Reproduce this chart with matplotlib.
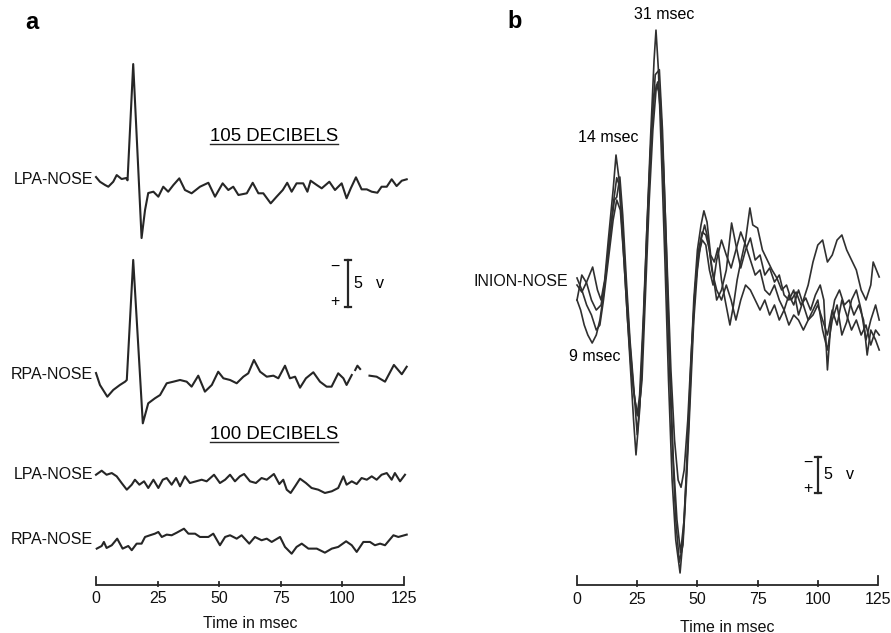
import numpy as np
import matplotlib.pyplot as plt

plt.rcParams['font.family'] = ['Liberation Sans', 'DejaVu Sans']

nan = np.nan

# ---- panel a: mastoid (PA) to nose derivations, 105 dB and 100 dB clicks ----
# time in msec, deflection in microvolts (upward = surface negative)
lpa105_t = [0, 1.6, 3.7, 5, 7, 8.4, 10.4, 12.2, 12.8, 15.1, 18.5, 19.9, 21.2, 23.3, 25.3,
            27.3, 29.3, 31.4, 33.8, 36.1, 38.8, 42.2, 45.6, 48.3, 51.4, 53.7, 55.7, 57.8,
            61.2, 63.6, 65.9, 67.9, 70.9, 73.3, 75.8, 77.6, 79.4, 81.4, 84.1, 85.8, 87.1,
            89.6, 91.6, 94.7, 97, 99.7, 101.7, 103.4, 105.5, 107.8, 109.9, 111.9, 114.2,
            115.9, 118, 120, 122, 124.1, 126.1]
lpa105_v = [0.85, 0.35, 0, -0.18, 0.35, 1.06, 0.64, 0.74, 0.5, 12.87, -5.64, -2.66, -0.85,
            -0.71, -1.24, -0.18, -0.71, 0, 0.71, -0.53, -0.88, -0.18, 0.24, -1.24, 0.18,
            -0.53, -0.18, -1.06, -0.88, 0.24, -0.88, -0.88, -1.95, -1.24, -0.53, 0.24,
            -0.71, 0.18, 0.18, -0.71, 0.46, 0, -0.35, 0.35, -0.53, 0.18, -1.41, -0.35,
            0.82, -0.46, -0.46, -0.71, -0.82, -0.18, -0.18, 0.61, -0.11, 0.46, 0.61]

rpa105_t = [0, 1.6, 4.6, 7, 9.7, 11.8, 12.5, 15.1, 19, 21.2, 23.9, 26, 28.7, 31.4, 34.1,
            36.8, 38.8, 41.5, 44.2, 47, 49.6, 51.7, 54.4, 57.1, 59.8, 61.8, 64.1, 66.6,
            69.3, 72, 74, 76.7, 78.7, 80.8, 82.8, 85.2, 88.2, 90.9, 93.6, 95.6, 98.3,
            100.4, 101.7, 103.8, 104.5, 105.2, 106.1, 107.2, 108, 111, 113.9, 117.3,
            120.9, 124.1, 126.1]
rpa105_v = [0.74, -0.53, -1.78, -1.06, -0.53, -0.18, 0, 12.77, -4.61, -2.48, -1.95, -1.6,
            -0.35, -0.18, 0, -0.18, -0.71, 0.46, -1.24, -0.53, 0.88, 0.18, 0, -0.35, 0.35,
            0.71, 2.13, 0.88, 0.35, 0.46, 0.18, 1.52, 0.18, 0.35, -0.82, 0.18, 0.82, -0.18,
            -0.71, -0.71, 0.71, 0.18, -0.53, 0.53, nan, 1.06, 1.52, 1.17, nan, 0.46, 0.35,
            -0.18, 1.6, 0.61, 1.41]

lpa100_t = [0, 2.3, 4.3, 6.4, 8.4, 10.4, 12.5, 14.5, 15.8, 17.6, 19.5, 21.2, 23.3, 25.3,
            27.1, 28.7, 30.7, 32.5, 34.1, 36.1, 38.1, 40.6, 42.9, 44.9, 47.9, 50.3, 52.4,
            54.4, 56.4, 58.4, 60.1, 62.5, 64.9, 67.2, 69.3, 72.2, 74.4, 76, 77.4, 79, 80.8,
            82.8, 85.2, 87.5, 90.2, 92.9, 95.7, 98.3, 100.4, 101.7, 103.8, 105.8, 107.8,
            109.9, 111.9, 113.9, 115.9, 118, 120, 121.3, 123.4, 125.4]
lpa100_v = [0.56, 0.99, 0.56, 0.74, 0.39, -0.32, -1.03, -0.5, 0.03, -0.5, -0.14, -0.85,
            0.03, -0.85, 0.03, 0.21, -0.5, 0.21, -0.67, 0.39, -0.32, -0.14, 0.03, -0.14,
            0.56, -0.32, 0.03, 0.56, -0.14, 0.39, 0.64, -0.14, -0.32, 0.21, 0.03, 0.64,
            -0.43, 0.03, -1.03, -1.38, -0.67, 0.14, -0.32, -0.85, -1.03, -1.38, -1.2,
            -0.85, 0.39, -0.5, -0.14, -0.43, 0.21, 0.03, 0.39, 0.03, 0.56, 0.74, 0.03,
            0.74, -0.14, 0.56]

rpa100_t = [0.3, 2.3, 3.2, 4.3, 6.4, 8.6, 10.8, 13.1, 14.5, 16.5, 18.5, 19.9, 21.9, 23.9,
            25.3, 26.7, 28.7, 30.7, 32.8, 35.7, 37.5, 40.2, 42.2, 45.6, 47.6, 50.3, 52.4,
            54.4, 57.1, 59.1, 62.2, 64.5, 67.2, 69.3, 71.3, 74.7, 76.7, 79.4, 81.4, 83.5,
            86.2, 89.6, 92.9, 95.7, 98.3, 101.5, 103.8, 105.8, 108.5, 111.2, 113.2, 115.3,
            117.3, 120.7, 122.7, 126.1]
rpa100_v = [-0.39, -0.11, 0.32, -0.32, -0.03, 0.67, -0.39, -0.11, -0.56, 0.14, 0.14, 0.85,
            1.03, 1.2, 1.38, 0.85, 1.1, 1.03, 1.31, 1.73, 1.2, 1.2, 0.85, 0.85, 1.2, -0.03,
            0.85, 1.03, 0.67, 1.03, 0.14, 0.85, 0.5, 0.67, 0.32, 0.85, -0.21, -0.93, -0.21,
            0.14, -0.39, -0.39, -0.82, -0.39, -0.21, 0.39, -0.03, -0.74, 0.32, 0.32, -0.03,
            0.14, -0.03, 1.03, 0.85, 1.1]

# ---- panel b: four superimposed inion-nose recordings ----
in1_t = [0, 2, 4, 6.5, 8.5, 10, 11.5, 13, 15, 16.2, 17.5, 19, 20.5, 22, 23.5, 24.5, 26,
         27.5, 29, 30.5, 32, 32.8, 33.8, 35, 36.5, 38, 39.5, 41, 42.8, 44, 45.5, 47, 48.5,
         50, 51.5, 52.7, 54, 55.5, 57, 58.5, 60, 61.5, 63.5, 65, 66.5, 68, 70, 71.8, 73,
         75, 77, 79, 81, 83, 85, 87, 89, 91, 93, 95, 97, 99, 101, 102.5, 104, 105.5, 107,
         109, 111, 113, 115, 117, 119, 120.5, 122, 124, 125.5]
in1_v = [0.69, -0.28, 1.11, 3.19, 0, -1.39, 1.39, 6.94, 13.9, 18.75, 15.3, 6.94, -1.39,
         -9.72, -18.1, -22.9, -16.7, -5.56, 8.33, 20.8, 31.9, 36.1, 30.6, 19.4, 4.17, -12.5,
         -26.4, -34.7, -39.3, -34.7, -25.0, -12.5, -1.39, 5.56, 9.03, 11.0, 9.44, 4.86,
         3.89, 5.83, 1.39, -1.39, -4.86, -2.08, 1.39, 3.89, 6.94, 11.4, 9.03, 8.61, 5.56,
         4.17, 2.78, 1.67, 0, 0.69, -1.39, -0.28, -2.08, -1.11, -2.78, -0.69, 0.69, -1.39,
         -11.1, -4.17, -1.39, 0, -2.08, -1.39, -3.47, -2.08, -4.17, -9.03, -5.56, -6.94,
         -8.33]

in2_t = [0, 2, 4, 6, 8, 10, 12, 14, 15.5, 16.5, 17.8, 19, 20.5, 22, 23.5, 25, 26.5, 28,
         29.5, 31, 32.5, 34.2, 35.5, 37, 38.5, 40, 41.5, 43, 44.5, 46, 47.5, 49, 50.5, 52,
         53.5, 55, 56.5, 58, 60, 62, 64.2, 66, 68, 70, 72, 74, 76, 78, 80, 82, 84, 86, 88,
         90, 92, 94, 96, 98, 100, 102, 104, 106, 108, 110, 112, 114, 116, 118, 120, 122,
         123, 125.5]
in2_v = [-1.39, 2.08, 0.97, -1.39, -2.78, -2.08, 2.08, 8.33, 12.5, 12.9, 15.7, 10.4, 1.39,
         -6.94, -13.2, -20.1, -13.9, -1.39, 11.1, 22.2, 29.9, 30.6, 22.2, 6.94, -9.72,
         -23.6, -31.9, -36.5, -31.9, -21.5, -9.72, 0, 5.56, 8.06, 7.64, 5.56, 2.08, -1.39,
         0, 2.78, 9.31, 6.25, 3.06, 5.56, 7.22, 4.17, 4.86, 2.08, 3.06, 1.11, 2.08, -0.69,
         -1.39, 0, -3.47, -1.39, 0.69, 3.89, 6.25, 6.94, 3.89, 4.86, 6.94, 7.64, 5.56,
         4.17, 2.78, 0, -1.39, 0.69, 3.89, 1.81]

in3_t = [0, 2, 4, 6, 8, 9.5, 11, 13, 15, 16.5, 18, 19.5, 21, 22.5, 24, 25.5, 27, 28.5,
         30, 31.5, 33, 34.5, 36, 37.5, 39, 40.5, 42, 43.2, 44.5, 46, 47.5, 49, 50.5, 52,
         53.5, 55, 56.5, 58, 60, 62, 64, 66, 68, 70, 72, 74, 76, 78, 80, 82, 84, 86, 88,
         90, 92, 94, 96, 98, 100, 102, 104, 106, 108, 110, 112, 114, 116, 118, 120, 122,
         124, 125.5]
in3_v = [1.67, 0, -2.08, -3.47, -5.56, -4.86, -1.39, 4.17, 9.72, 12.5, 11.1, 4.17, -4.17,
         -11.1, -15.3, -17.6, -12.5, 0, 12.5, 22.2, 28.5, 27.1, 16.7, 2.78, -11.1, -20.8,
         -26.4, -27.4, -25.0, -18.1, -8.33, 0, 4.86, 6.94, 6.25, 2.78, 0.69, 4.17, 6.94,
         4.86, 3.06, 5.56, 8.06, 6.25, 4.17, 2.08, 2.78, 0, -0.69, 0.69, -1.39, -2.78,
         -0.69, -2.08, 0, -2.08, -4.17, -2.78, -1.39, -5.56, -8.33, -4.17, -2.08, -6.25,
         -4.44, -1.39, 0, -2.78, -6.94, -4.17, -2.08, -4.17]

in4_t = [0, 1.5, 3, 4.5, 6.3, 8, 9.5, 11, 13, 15, 16.5, 17.5, 19, 20.5, 22, 23.5, 25, 26,
         27.5, 29, 30.5, 32, 33.5, 35, 36.5, 38, 39.5, 41, 42.5, 44, 45.5, 47, 48.5, 50,
         51.5, 53, 54.5, 56, 58, 60, 62, 64, 66, 68, 70, 72, 74, 76, 78, 80, 82, 84, 86,
         88, 90, 92, 94, 96, 98, 100, 102, 104, 106, 108, 110, 112, 114, 116, 118, 120,
         122, 124, 125.5]
in4_v = [-1.39, -2.78, -4.86, -6.25, -7.36, -6.25, -4.17, -0.69, 5.56, 11.8, 15.6, 14.6,
         8.33, 0, -7.64, -13.9, -17.4, -14.6, -4.17, 8.33, 19.4, 27.1, 28.9, 23.6, 9.72,
         -6.94, -20.8, -31.9, -37.8, -35.4, -26.4, -15.3, -4.17, 2.78, 6.94, 9.03, 6.94,
         2.78, 0, -1.39, 0.69, -1.39, -4.17, -1.39, 0.69, 0, -1.39, -2.78, -1.39, -3.47,
         -2.08, -4.17, -2.78, -4.86, -3.47, -4.17, -5.56, -4.17, -3.47, -2.08, -4.17,
         -6.25, -2.78, -4.86, -1.39, -3.47, -5.56, -4.17, -6.25, -4.86, -7.64, -5.56,
         -6.25]

time_ticks = [0, 25, 50, 75, 100, 125]

INK = '#262626'
W, H = 891, 633
FS = 11.5


def setup(ax, left_px, width_px, zero_px, px_per_ms, axis_px, px_per_uv):
    # map msec / microvolts so that the pixel grid of the figure lines up
    ax.set_xlim((left_px - zero_px) / px_per_ms, (left_px + width_px - zero_px) / px_per_ms)
    ax.set_ylim(-(H - axis_px) / px_per_uv, axis_px / px_per_uv)
    ax.axis('off')


def time_axis(ax, end_h, mid_h, lab_y, title_y):
    ax.plot([time_ticks[0], time_ticks[-1]], [0, 0], color=INK, lw=1.3,
            solid_capstyle='butt')
    for t in time_ticks:
        if t in (time_ticks[0], time_ticks[-1]):
            ax.plot([t, t], [0, end_h], color=INK, lw=1.3)
        else:
            ax.plot([t, t], [-mid_h * 0.3, mid_h], color=INK, lw=1.3)
        ax.text(t, lab_y, str(t), ha='center', va='center', fontsize=FS, color='#111')
    ax.text(62.5, title_y, 'Time in msec', ha='center', va='center', fontsize=FS,
            color='#111')


def scale_bar(ax, t, y0, serif, sign_dt, txt_dt, v_dt):
    ax.plot([t, t], [y0, y0 + 5], color=INK, lw=1.6)
    for y in (y0, y0 + 5):
        ax.plot([t - serif, t + serif], [y, y], color=INK, lw=1.6)
    ax.text(t - sign_dt, y0 + 4.3, '\u2212', ha='center', va='center', fontsize=FS)
    ax.text(t - sign_dt, y0 + 0.6, '+', ha='center', va='center', fontsize=FS)
    ax.text(t + txt_dt, y0 + 2.5, '5', ha='center', va='center', fontsize=FS)
    ax.text(t + v_dt, y0 + 2.5, 'v', ha='center', va='center', fontsize=FS)


fig = plt.figure(figsize=(W / 100, H / 100), dpi=100)
ax_a = fig.add_axes([0, 0, 445 / W, 1])
ax_b = fig.add_axes([446 / W, 0, 445 / W, 1])

# panel a: 2.464 px per msec, 9.4 px per microvolt
setup(ax_a, 0, 445, 96, 2.464, 585, 9.4)
rows = [
    ('LPA-NOSE', lpa105_t, lpa105_v, 42.55),
    ('RPA-NOSE', rpa105_t, rpa105_v, 21.81),
    ('LPA-NOSE', lpa100_t, lpa100_v, 11.17),
    ('RPA-NOSE', rpa100_t, rpa100_v, 4.26),
]
for name, t, v, off in rows:
    ax_a.plot(t, np.array(v) + off, color=INK, lw=1.5, solid_joinstyle='round')
    ax_a.text(-1.2, off + 0.6, name, ha='right', va='center', fontsize=FS, color='#111')

heads = [ax_a.text(72.2, 47.7, '105 DECIBELS', ha='center', va='center', fontsize=13.4),
         ax_a.text(72.2, 16.0, '100 DECIBELS', ha='center', va='center', fontsize=13.4)]
ax_a.text(-26, 59.8, 'a', ha='center', va='center', fontsize=17, fontweight='bold')
scale_bar(ax_a, 102.3, 29.57, 1.2, 5.3, 4.0, 13.0)
time_axis(ax_a, 0.85, 0.3, -1.4, -4.05)

# panel b: 2.408 px per msec, 7.2 px per microvolt
setup(ax_b, 446, 445, 577, 2.408, 585, 7.2)
base_b = 40.97
for t, v in [(in1_t, in1_v), (in2_t, in2_v), (in3_t, in3_v), (in4_t, in4_v)]:
    ax_b.plot(t, np.array(v) + base_b, color='#303030', lw=1.2, solid_joinstyle='round')
ax_b.text(-3.5, 42.2, 'INION-NOSE', ha='right', va='center', fontsize=FS, color='#111')
ax_b.text(36.1, 79.2, '31 msec', ha='center', va='center', fontsize=FS)
ax_b.text(12.9, 62.2, '14 msec', ha='center', va='center', fontsize=FS)
ax_b.text(7.5, 31.8, '9 msec', ha='center', va='center', fontsize=FS)
ax_b.text(-25.7, 78.2, 'b', ha='center', va='center', fontsize=17, fontweight='bold')
scale_bar(ax_b, 100.1, 12.78, 1.2, 4.2, 4.1, 13.3)
time_axis(ax_b, 1.3, 0.5, -1.95, -5.85)

# underline the stimulus headings
fig.canvas.draw()
rend = fig.canvas.get_renderer()
inv = ax_a.transData.inverted()
for h in heads:
    bb = h.get_window_extent(rend)
    (x0, y0), (x1, _) = inv.transform([[bb.x0, bb.y0 + 1], [bb.x1, bb.y1]])
    ax_a.plot([x0, x1], [y0, y0], color=INK, lw=1.0)

fig.savefig('out.png', dpi=100)
